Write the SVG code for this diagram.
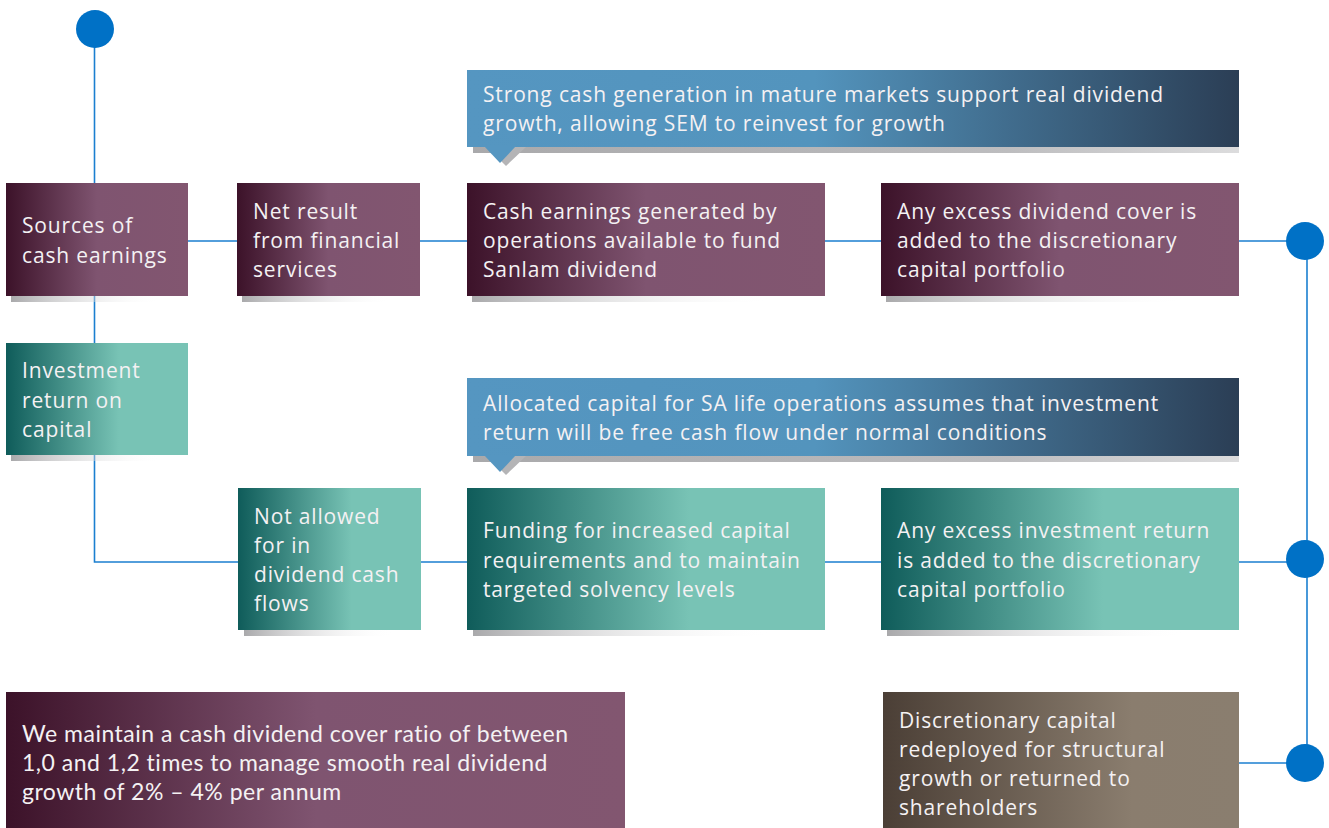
<svg xmlns="http://www.w3.org/2000/svg" width="1329" height="828" viewBox="0 0 1329 828">
<defs>
<linearGradient id="gPurple" x1="0" y1="0" x2="1" y2="0">
<stop offset="0" stop-color="#3c1229"/>
<stop offset="0.5" stop-color="#7f5470"/>
<stop offset="1" stop-color="#825670"/>
</linearGradient>
<linearGradient id="gTeal" x1="0" y1="0" x2="1" y2="0">
<stop offset="0" stop-color="#0f5c5a"/>
<stop offset="0.62" stop-color="#78c3b5"/>
<stop offset="1" stop-color="#78c3b5"/>
</linearGradient>
<linearGradient id="gBrown" x1="0" y1="0" x2="1" y2="0">
<stop offset="0" stop-color="#4b3f36"/>
<stop offset="0.7" stop-color="#8a7d6e"/>
<stop offset="1" stop-color="#8a7e6f"/>
</linearGradient>
<linearGradient id="gBlue" x1="0" y1="0" x2="1" y2="0">
<stop offset="0" stop-color="#5596c1"/>
<stop offset="0.45" stop-color="#5394bd"/>
<stop offset="1" stop-color="#2b3e55"/>
</linearGradient>
<linearGradient id="gShadow" x1="0" y1="0" x2="1" y2="0">
<stop offset="0" stop-color="#a9a9ab"/>
<stop offset="1" stop-color="#ffffff" stop-opacity="0"/>
</linearGradient>
<linearGradient id="gShadowC" x1="0" y1="0" x2="1" y2="0">
<stop offset="0" stop-color="#a9a9ab"/>
<stop offset="0.7" stop-color="#bdbdbf"/>
<stop offset="1" stop-color="#dcdcdd"/>
</linearGradient>
</defs>
<style>
.t{font-family:"Open Sans","Liberation Sans",sans-serif;font-size:21px;letter-spacing:0.85px;fill:#f4f1f3;}
.t2{font-family:Lato,"Liberation Sans",sans-serif;font-size:23px;letter-spacing:0.5px;fill:#f4f1f3;}
.ln{stroke:#1b7fd0;stroke-width:1.6;fill:none;}
.dot{fill:#0071c6;}
.sh{fill:url(#gShadow);}
</style>
<rect width="1329" height="828" fill="#ffffff"/>
<g id="connectors">
<path class="ln" d="M94.5 29 V183"/>
<path class="ln" d="M94.5 296 V343"/>
<path class="ln" d="M94.5 455 V562 H238"/>
<path class="ln" d="M188 241 H237 M420 241 H467 M825 241 H881 M1239 241 H1305"/>
<path class="ln" d="M421 562 H467 M825 562 H881 M1239 562 H1305"/>
<path class="ln" d="M1239 763 H1305"/>
<path class="ln" d="M1307 241 V763"/>
<circle class="dot" cx="95" cy="29" r="19"/>
<circle class="dot" cx="1305" cy="241" r="19"/>
<circle class="dot" cx="1305" cy="559" r="19"/>
<circle class="dot" cx="1305" cy="763" r="19"/>
</g>
<g id="callout1">
<rect x="473" y="147" width="766" height="6" fill="url(#gShadowC)"/>
<polygon points="500,147 526,147 506,166 500,160" fill="#b4b4b6"/>
<rect x="467" y="70" width="772" height="77" fill="url(#gBlue)"/>
<polygon points="484,146 516,146 500,163" fill="#5596c1"/>
<text class="t" x="483" y="102">Strong cash generation in mature markets support real dividend</text>
<text class="t" x="483" y="131">growth, allowing SEM to reinvest for growth</text>
</g>
<g id="callout2">
<rect x="473" y="456" width="766" height="6" fill="url(#gShadowC)"/>
<polygon points="500,456 526,456 506,475 500,469" fill="#b4b4b6"/>
<rect x="467" y="378" width="772" height="78" fill="url(#gBlue)"/>
<polygon points="484,455 516,455 500,472" fill="#5596c1"/>
<text class="t" x="483" y="411">Allocated capital for SA life operations assumes that investment</text>
<text class="t" x="483" y="440">return will be free cash flow under normal conditions</text>
</g>
<g id="sources">
<rect class="sh" x="11" y="296" width="150" height="6"/>
<rect x="6" y="183" width="182" height="113" fill="url(#gPurple)"/>
<text class="t" x="22" y="233">Sources of</text>
<text class="t" x="22" y="263">cash earnings</text>
</g>
<g id="netresult">
<rect class="sh" x="242" y="296" width="150" height="6"/>
<rect x="237" y="183" width="183" height="113" fill="url(#gPurple)"/>
<text class="t" x="253" y="219">Net result</text>
<text class="t" x="253" y="248">from financial</text>
<text class="t" x="253" y="277">services</text>
</g>
<g id="cashearnings">
<rect class="sh" x="472" y="296" width="300" height="6"/>
<rect x="467" y="183" width="358" height="113" fill="url(#gPurple)"/>
<text class="t" x="483" y="219">Cash earnings generated by</text>
<text class="t" x="483" y="248">operations available to fund</text>
<text class="t" x="483" y="277">Sanlam dividend</text>
</g>
<g id="excessdividend">
<rect class="sh" x="886" y="296" width="300" height="6"/>
<rect x="881" y="183" width="358" height="113" fill="url(#gPurple)"/>
<text class="t" x="897" y="219">Any excess dividend cover is</text>
<text class="t" x="897" y="248">added to the discretionary</text>
<text class="t" x="897" y="277">capital portfolio</text>
</g>
<g id="investment">
<rect class="sh" x="11" y="455" width="150" height="6"/>
<rect x="6" y="343" width="182" height="112" fill="url(#gTeal)"/>
<text class="t" x="22" y="378">Investment</text>
<text class="t" x="22" y="408">return on</text>
<text class="t" x="22" y="437">capital</text>
</g>
<g id="notallowed">
<rect class="sh" x="244" y="630" width="150" height="6"/>
<rect x="238" y="488" width="183" height="142" fill="url(#gTeal)"/>
<text class="t" x="254" y="524">Not allowed</text>
<text class="t" x="254" y="553">for in</text>
<text class="t" x="254" y="582">dividend cash</text>
<text class="t" x="254" y="611">flows</text>
</g>
<g id="funding">
<rect class="sh" x="473" y="630" width="300" height="6"/>
<rect x="467" y="488" width="358" height="142" fill="url(#gTeal)"/>
<text class="t" x="483" y="538">Funding for increased capital</text>
<text class="t" x="483" y="568">requirements and to maintain</text>
<text class="t" x="483" y="597">targeted solvency levels</text>
</g>
<g id="excessinvestment">
<rect class="sh" x="887" y="630" width="300" height="6"/>
<rect x="881" y="488" width="358" height="142" fill="url(#gTeal)"/>
<text class="t" x="897" y="538">Any excess investment return</text>
<text class="t" x="897" y="568">is added to the discretionary</text>
<text class="t" x="897" y="597">capital portfolio</text>
</g>
<g id="discretionary">
<rect x="883" y="692" width="356" height="136" fill="url(#gBrown)"/>
<text class="t" x="899" y="728">Discretionary capital</text>
<text class="t" x="899" y="757">redeployed for structural</text>
<text class="t" x="899" y="786">growth or returned to</text>
<text class="t" x="899" y="815">shareholders</text>
</g>
<g id="policy">
<rect x="6" y="692" width="619" height="136" fill="url(#gPurple)"/>
<text class="t2" x="22" y="742">We maintain a cash dividend cover ratio of between</text>
<text class="t2" x="22" y="771">1,0 and 1,2 times to manage smooth real dividend</text>
<text class="t2" x="22" y="800">growth of 2% – 4% per annum</text>
</g>
</svg>
